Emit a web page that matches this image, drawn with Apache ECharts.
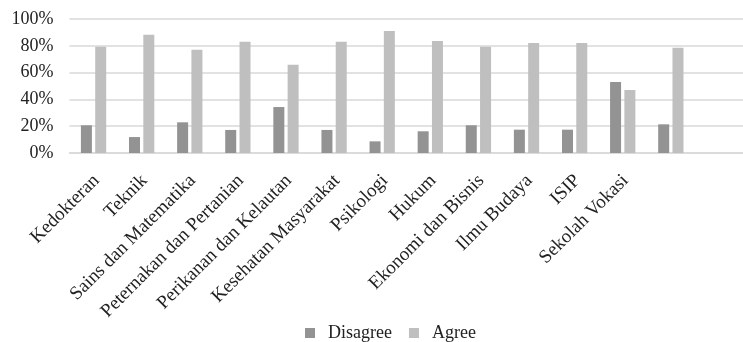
<!DOCTYPE html>
<html>
<head>
<meta charset="utf-8">
<script src="https://cdn.jsdelivr.net/npm/echarts@6/dist/echarts.min.js"></script>
<style>
  html, body { margin: 0; padding: 0; background: #fff; }
  #chart { width: 743px; height: 342px; }
</style>
</head>
<body>
<div id="chart"></div>
<script>
// Faculty names (the 13th group carries no label; one trailing empty slot)
const categories = [
  'Kedokteran', 'Teknik', 'Sains dan Matematika', 'Peternakan dan Pertanian',
  'Perikanan dan Kelautan', 'Kesehatan Masyarakat', 'Psikologi', 'Hukum',
  'Ekonomi dan Bisnis', 'Ilmu Budaya', 'ISIP', 'Sekolah Vokasi', '', ''
];
// Share of respondents, in percent
const disagree = [20.7, 11.9, 22.9, 17.2, 34.3, 17.2, 8.7, 16.2, 20.7, 17.4, 17.4, 53.0, 21.4, null];
const agree    = [79.3, 88.3, 77.1, 83.1, 65.9, 83.1, 91.0, 83.6, 79.3, 82.1, 82.1, 47.0, 78.6, null];
const yTicks = [0, 20, 40, 60, 80, 100];

const FONT = '"Liberation Serif", "Times New Roman", serif';
const chart = echarts.init(document.getElementById('chart'));
chart.setOption({
  animation: false,
  textStyle: { fontFamily: FONT },
  grid: { left: 69.5, top: 19, width: 685, height: 134, containLabel: false },
  legend: {
    left: 305, top: 324, padding: 0,
    itemWidth: 10, itemHeight: 10, itemGap: 17,
    icon: 'rect',
    textStyle: { fontFamily: FONT, fontSize: 18, color: '#222', padding: [0, 0, 0, 8] },
    data: ['Disagree', 'Agree']
  },
  xAxis: {
    type: 'category',
    data: categories,
    axisLine: { lineStyle: { color: '#d9d9d9', width: 1.5 } },
    axisTick: { show: false },
    axisLabel: {
      interval: 0, rotate: 45, margin: 22, verticalAlign: 'top', lineHeight: 8,
      fontFamily: FONT, fontSize: 19, color: '#222'
    }
  },
  yAxis: {
    type: 'value',
    min: yTicks[0], max: yTicks[yTicks.length - 1], interval: 20,
    axisLine: { show: false },
    axisTick: { show: false },
    splitLine: { lineStyle: { color: '#d9d9d9', width: 1.5 } },
    axisLabel: {
      margin: 16, fontFamily: FONT, fontSize: 18, color: '#222',
      formatter: v => v + '%'
    }
  },
  series: [
    { name: 'Disagree', type: 'bar', data: disagree, barWidth: 11, barGap: '30%',
      itemStyle: { color: '#939393' } },
    { name: 'Agree', type: 'bar', data: agree, barWidth: 11,
      itemStyle: { color: '#bfbfbf' } }
  ]
});
</script>
</body>
</html>
